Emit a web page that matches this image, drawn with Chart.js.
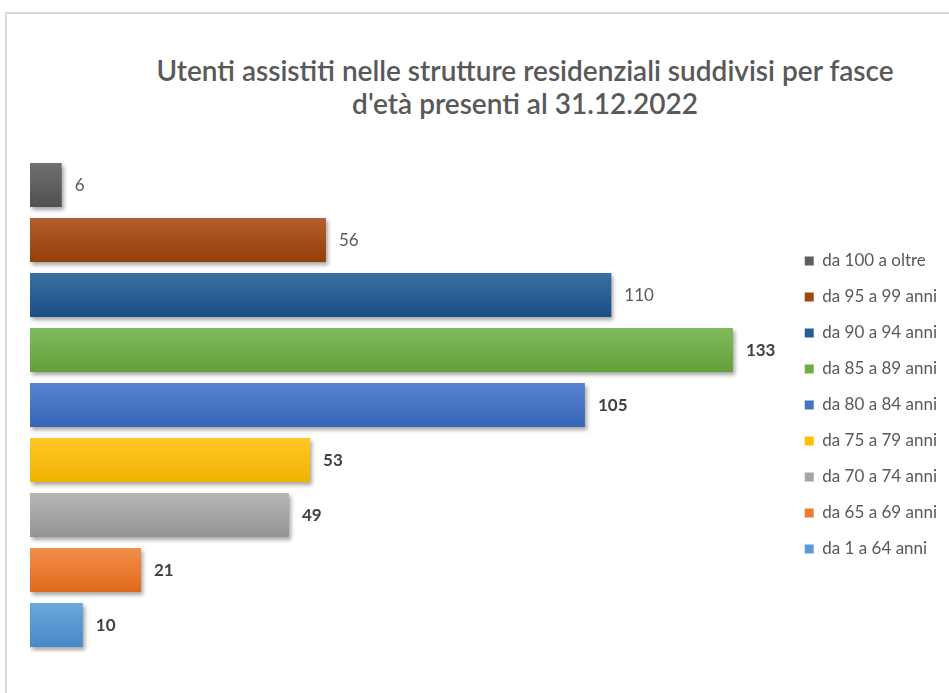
<!DOCTYPE html>
<html>
<head>
<meta charset="utf-8">
<script src="https://cdn.jsdelivr.net/npm/chart.js@4/dist/chart.umd.min.js"></script>
<style>
  html, body { margin: 0; padding: 0; background: #fff; }
  #wrap { position: relative; width: 949px; height: 693px; overflow: hidden; }
  #frame { position: absolute; left: 5px; top: 12px; width: 960px; height: 700px;
           border-top: 2px solid #d9d9d9; border-left: 2px solid #d9d9d9; }
  #title { position: absolute; left: 100px; width: 850px; top: 54px; text-align: center;
           font-family: Lato, "Open Sans", sans-serif; font-size: 28px; line-height: 33px;
           color: #595959; font-weight: 600; white-space: nowrap; }
  canvas { position: absolute; left: 0; top: 0; }
</style>
</head>
<body>
<div id="wrap">
  <div id="frame"></div>
  <div id="title">Utenti assistiti nelle strutture residenziali suddivisi per fasce<br>d'età presenti al 31.12.2022</div>
  <canvas id="c" width="949" height="693"></canvas>
</div>
<script>
// ---- data ----
const categories = [
  "da 100 a oltre",
  "da 95 a 99 anni",
  "da 90 a 94 anni",
  "da 85 a 89 anni",
  "da 80 a 84 anni",
  "da 75 a 79 anni",
  "da 70 a 74 anni",
  "da 65 a 69 anni",
  "da 1 a 64 anni"
];
const values = [6, 56, 110, 133, 105, 53, 49, 21, 10];

// ---- styles ----
const solidColors = ["#5f5f5f", "#9e480e", "#255e91", "#70ad47", "#4472c4", "#ffc000", "#a5a5a5", "#ed7d31", "#5b9bd5"];
const topColors   = ["#707070", "#b25f30", "#3b6fa2", "#82bb5c", "#5784cf", "#ffc728", "#b6b6b6", "#f18e4b", "#6aa7dd"];
const botColors   = ["#505050", "#953e05", "#1a4f86", "#62a03a", "#3763b8", "#f0b300", "#939393", "#e06a1c", "#4788c8"];
const labelBold   = [false, false, false, true, true, true, true, true, true];

const shadowPlugin = {
  id: 'barShadow',
  beforeDatasetsDraw(chart) {
    const ctx = chart.ctx;
    ctx.save();
    ctx.shadowColor = 'rgba(0,0,0,0.35)';
    ctx.shadowBlur = 4;
    ctx.shadowOffsetX = 2;
    ctx.shadowOffsetY = 3;
  },
  afterDatasetsDraw(chart) {
    chart.ctx.restore();
    const ctx = chart.ctx;
    const meta = chart.getDatasetMeta(0);
    ctx.save();
    ctx.textAlign = 'left';
    ctx.textBaseline = 'middle';
    meta.data.forEach((bar, i) => {
      ctx.font = (labelBold[i] ? 'bold ' : '') + '17px Lato, "Open Sans", sans-serif';
      ctx.fillStyle = labelBold[i] ? '#404040' : '#595959';
      ctx.fillText(String(values[i]), bar.x + 13, bar.y + 1);
    });
    ctx.restore();
  }
};

function gradientFor(c) {
  const chart = c.chart;
  const i = c.dataIndex;
  if (!chart.chartArea || !chart.scales.y) return solidColors[i];
  const cy = chart.scales.y.getPixelForValue(i);
  const h = 22;
  const g = chart.ctx.createLinearGradient(0, cy - h, 0, cy + h);
  g.addColorStop(0, topColors[i]);
  g.addColorStop(1, botColors[i]);
  return g;
}

new Chart(document.getElementById('c'), {
  type: 'bar',
  data: {
    labels: categories,
    datasets: [{
      data: values,
      backgroundColor: gradientFor,
      borderWidth: 0,
      barPercentage: 0.8,
      categoryPercentage: 1.0
    }]
  },
  options: {
    indexAxis: 'y',
    responsive: false,
    animation: false,
    devicePixelRatio: 1,
    layout: { padding: { left: 30, top: 157.5, bottom: 40.5, right: 2 } },
    scales: {
      x: { display: false, min: 0, max: 143, grid: { display: false } },
      y: { display: false, grid: { display: false } }
    },
    plugins: {
      title: { display: false },
      tooltip: { enabled: false },
      legend: {
        display: true,
        position: 'right',
        align: 'center',
        labels: {
          boxWidth: 9,
          boxHeight: 9,
          padding: 19,
          color: '#595959',
          font: { family: 'Lato, "Open Sans", sans-serif', size: 17 },
          generateLabels: () => categories.map((t, i) => ({
            text: t, fillStyle: solidColors[i], strokeStyle: solidColors[i],
            lineWidth: 0, hidden: false, index: i, fontColor: '#595959'
          }))
        }
      }
    }
  },
  plugins: [shadowPlugin]
});
</script>
</body>
</html>
